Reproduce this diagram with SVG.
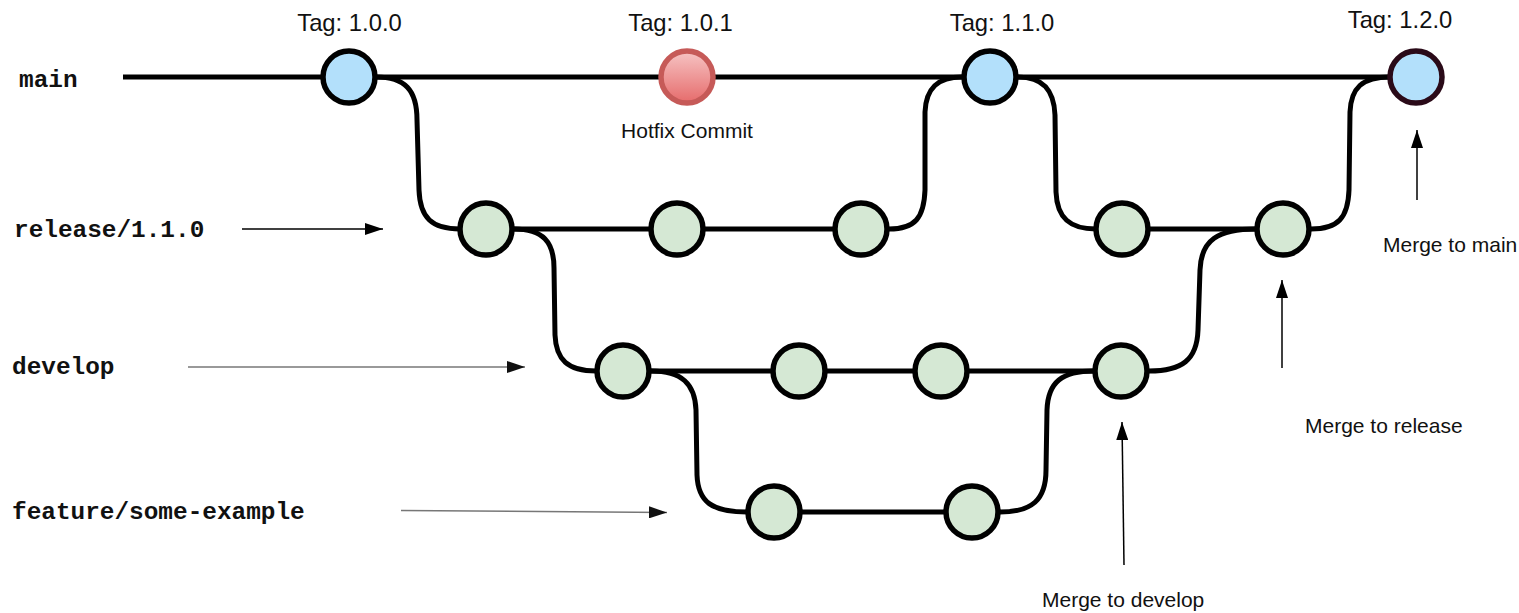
<svg xmlns="http://www.w3.org/2000/svg" width="1519" height="613" viewBox="0 0 1519 613">
  <defs>
    <linearGradient id="hotfixFill" x1="0" y1="0" x2="0" y2="1">
      <stop offset="0" stop-color="#f6c4c4"/>
      <stop offset="1" stop-color="#e66b6b"/>
    </linearGradient>
    <marker id="arrowHead" viewBox="0 0 18 12" refX="18" refY="6" markerWidth="18" markerHeight="12" markerUnits="userSpaceOnUse" orient="auto">
      <path d="M0,0 L18,6 L0,12 Z" fill="#000"/>
    </marker>
    <marker id="arrowHeadGray" viewBox="0 0 18 12" refX="18" refY="6" markerWidth="18" markerHeight="12" markerUnits="userSpaceOnUse" orient="auto">
      <path d="M0,0 L18,6 L0,12 Z" fill="#111"/>
    </marker>
  </defs>
  <style>
    .branch { fill: none; stroke: #000; stroke-width: 5; stroke-linecap: butt; }
    .pointer { fill: none; stroke: #000; stroke-width: 1.5; marker-end: url(#arrowHead); }
    .pointer.gray { stroke: #777; marker-end: url(#arrowHeadGray); }
    .commit { stroke: #000; stroke-width: 5.5; }
    .tagged { fill: #b3e0fb; }
    .work { fill: #d5e8d4; }
    .hotfix { fill: url(#hotfixFill); stroke: #c65a58; }
    .release-tip { stroke: #2a0a18; }
    .label { font-family: "Liberation Sans", Arial, sans-serif; fill: #111; }
    .tag { font-size: 23.8px; text-anchor: middle; }
    .note { font-size: 21px; }
    .name { font-family: "Liberation Mono", "Courier New", monospace; font-weight: bold; font-size: 24.4px; fill: #111; }
  </style>

  <rect width="1519" height="613" fill="#fff"/>

  <!-- branch lines and merge curves -->
  <g id="connectors">
    <!-- main -->
    <path class="branch" d="M123,77 L1390,77"/>
    <!-- release/1.1.0 -->
    <path class="branch" d="M486,229 L862,229"/>
    <path class="branch" d="M1122,229 L1283,229"/>
    <!-- develop -->
    <path class="branch" d="M623,371 L1121,371"/>
    <!-- feature/some-example -->
    <path class="branch" d="M774,512 L972,512"/>

    <!-- main 1.0.0 to release -->
    <path class="branch" d="M376,77 C405,77 417,90 417,120 L419,190 C420,218 432,229 460,229"/>
    <!-- release to develop -->
    <path class="branch" d="M514,229 C543,229 554,242 554,268 L555,335 C556,360 568,371 596,371"/>
    <!-- develop to feature -->
    <path class="branch" d="M651,371 C682,371 695,384 696,410 L697,475 C698,502 712,512 747,512"/>
    <!-- feature back into develop -->
    <path class="branch" d="M1000,512 C1032,512 1046,500 1046,470 L1047,410 C1048,382 1062,371 1094,371"/>
    <!-- develop into release -->
    <path class="branch" d="M1149,371 C1182,371 1197,360 1198,330 L1200,270 C1201,240 1218,229 1256,229"/>
    <!-- release into main (1.1.0) -->
    <path class="branch" d="M889,229 C915,229 924,218 925,190 L925,112 C926,88 938,77 962,77"/>
    <!-- main 1.1.0 to release -->
    <path class="branch" d="M1018,77 C1043,77 1054,90 1055,115 L1056,192 C1057,218 1070,229 1096,229"/>
    <!-- release into main (1.2.0) -->
    <path class="branch" d="M1311,229 C1338,229 1348,218 1349,190 L1350,112 C1351,88 1362,77 1390,77"/>

    <!-- label pointers -->
    <path class="pointer" d="M242,229 L383,229"/>
    <path class="pointer gray" d="M188,367 L525,367"/>
    <path class="pointer gray" d="M401,510.5 L667,512.5"/>
    <path class="pointer" d="M1417,200 L1417,130"/>
    <path class="pointer" d="M1282,368 L1282,280"/>
    <path class="pointer" d="M1124,565 L1122,422"/>
  </g>

  <!-- commits on main -->
  <g id="main-1-0-0"><circle class="commit tagged" cx="349" cy="77" r="26"/><text class="label tag" x="349.5" y="31">Tag: 1.0.0</text></g>
  <g id="main-1-0-1"><circle class="commit hotfix" cx="687" cy="77" r="26"/><text class="label tag" x="680.5" y="31">Tag: 1.0.1</text><text class="label note" x="687" y="138" text-anchor="middle">Hotfix Commit</text></g>
  <g id="main-1-1-0"><circle class="commit tagged" cx="990" cy="77" r="26"/><text class="label tag" x="1002" y="31">Tag: 1.1.0</text></g>
  <g id="main-1-2-0"><circle class="commit tagged release-tip" cx="1416" cy="77" r="26"/><text class="label tag" x="1400" y="28">Tag: 1.2.0</text></g>

  <!-- commits on release/1.1.0 -->
  <g id="release-1"><circle class="commit work" cx="486" cy="229" r="26"/></g>
  <g id="release-2"><circle class="commit work" cx="677" cy="229" r="26"/></g>
  <g id="release-3"><circle class="commit work" cx="861" cy="229" r="26"/></g>
  <g id="release-4"><circle class="commit work" cx="1122" cy="229" r="26"/></g>
  <g id="release-5"><circle class="commit work" cx="1283" cy="229" r="26"/></g>

  <!-- commits on develop -->
  <g id="develop-1"><circle class="commit work" cx="623" cy="371" r="26"/></g>
  <g id="develop-2"><circle class="commit work" cx="799" cy="371" r="26"/></g>
  <g id="develop-3"><circle class="commit work" cx="941" cy="371" r="26"/></g>
  <g id="develop-4"><circle class="commit work" cx="1121" cy="371" r="26"/></g>

  <!-- commits on feature/some-example -->
  <g id="feature-1"><circle class="commit work" cx="774" cy="512" r="26"/></g>
  <g id="feature-2"><circle class="commit work" cx="972" cy="512" r="26"/></g>

  <!-- branch names -->
  <g id="branch-names">
    <text class="name" x="19" y="87">main</text>
    <text class="name" x="14" y="237">release/1.1.0</text>
    <text class="name" x="12" y="374">develop</text>
    <text class="name" x="12" y="519">feature/some-example</text>
  </g>

  <!-- merge notes -->
  <g id="merge-notes">
    <text class="label note" x="1383" y="252">Merge to main</text>
    <text class="label note" x="1305" y="433">Merge to release</text>
    <text class="label note" x="1042" y="607">Merge to develop</text>
  </g>
</svg>
